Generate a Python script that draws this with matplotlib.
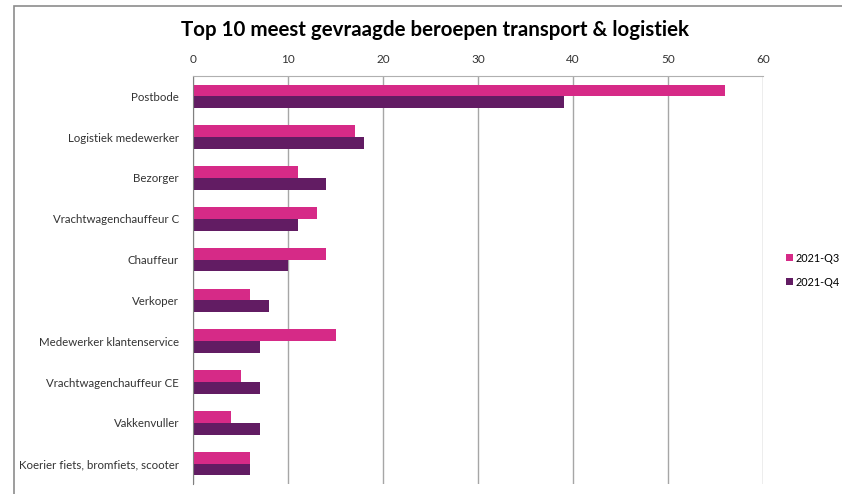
import matplotlib.pyplot as plt
import numpy as np
from matplotlib.patches import Rectangle

plt.rcParams['font.family'] = ['Lato', 'DejaVu Sans']

beroepen = [
    "Postbode",
    "Logistiek medewerker",
    "Bezorger",
    "Vrachtwagenchauffeur C",
    "Chauffeur",
    "Verkoper",
    "Medewerker klantenservice",
    "Vrachtwagenchauffeur CE",
    "Vakkenvuller",
    "Koerier fiets, bromfiets, scooter",
]
q3 = [56, 17, 11, 13, 14, 6, 15, 5, 4, 6]
q4 = [39, 18, 14, 11, 10, 8, 7, 7, 7, 6]
ticks = [0, 10, 20, 30, 40, 50, 60]

fig = plt.figure(figsize=(8.42, 4.94), dpi=100)
W, H = 842, 494

# grey chart border (cropped at right and bottom)
fig.patches.append(Rectangle((14 / W, -0.1), 1.0, 1 - 6 / H + 0.1,
                             transform=fig.transFigure, fill=False,
                             edgecolor="#8c8c8c", linewidth=1.2))

ax = fig.add_axes([193 / W, 1 - 484 / H, (763 - 193) / W, (484 - 76) / H])

y = np.arange(len(beroepen))
h = 0.29
ax.barh(y - h / 2, q3, height=h, color="#D62A87", label="2021-Q3")
ax.barh(y + h / 2, q4, height=h, color="#621C63", label="2021-Q4")

ax.set_xlim(0, 60)
ax.set_ylim(len(beroepen) - 0.5, -0.5)
ax.set_xticks(ticks)
ax.set_yticks(y)
ax.set_yticklabels(beroepen)
ax.xaxis.tick_top()
ax.tick_params(axis="x", length=0, pad=8, labelsize=8.5, colors="#333333")
ax.tick_params(axis="y", length=0, pad=10, labelsize=8.3, colors="#333333")
ax.grid(axis="x", color="#a6a6a6", linewidth=1)
ax.set_axisbelow(True)
for side in ["right", "bottom"]:
    ax.spines[side].set_visible(False)
ax.spines["top"].set_color("#b0b0b0")
ax.spines["left"].set_color("#808080")

fig.text(435 / W, 1 - 30 / H, "Top 10 meest gevraagde beroepen transport & logistiek",
         ha="center", va="center", fontsize=14.8, fontweight="bold", color="black")

ax.legend(loc="center left", bbox_to_anchor=(786 / W, 1 - 270 / H),
          bbox_transform=fig.transFigure, frameon=False, fontsize=7.8,
          handlelength=0.6, handleheight=0.6, handletextpad=0.3,
          labelspacing=1.2, borderaxespad=0, borderpad=0)

fig.savefig("out.png", dpi=100)
